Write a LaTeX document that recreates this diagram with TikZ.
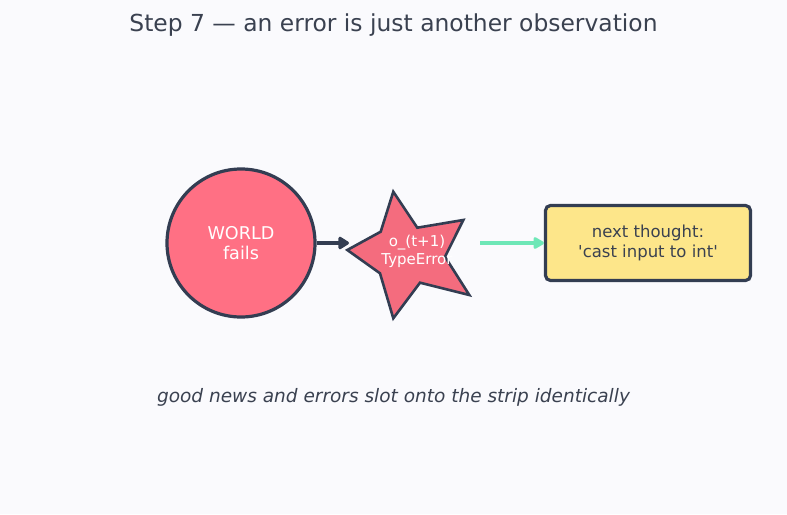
\documentclass[tikz,border=0pt]{standalone}
\usepackage{fontspec}
\setmainfont{DejaVu Sans}
\usetikzlibrary{arrows.meta,positioning}
\definecolor{ink}{HTML}{333D52}
\definecolor{paper}{HTML}{FAFAFD}
\definecolor{failred}{HTML}{FF7084}
\definecolor{errred}{HTML}{F46C7E}
\definecolor{mint}{HTML}{6EE7B7}
\definecolor{note}{HTML}{FDE68A}
\definecolor{textgrey}{HTML}{3A4150}
\tikzset{>=Latex,
  world/.style={circle,draw=ink,line width=3.2pt,fill=failred,minimum size=148pt,
    text=white,align=center,font=\fontsize{17.6}{20}\selectfont},
  errstar/.style={draw=ink,line width=2.6pt,fill=errred,line join=miter},
  thought/.style={draw=ink,line width=3.2pt,fill=note,rounded corners=5pt,
    minimum width=205pt,minimum height=75pt,text=textgrey,align=center,
    font=\fontsize{16.5}{20.5}\selectfont},
  darkarrow/.style={-{Triangle[length=12pt,width=14pt,round]},draw=ink,fill=ink,line width=4.4pt},
  mintarrow/.style={-{Triangle[length=12pt,width=13pt,round]},draw=mint,fill=mint,line width=3.4pt}}
\begin{document}
\begin{tikzpicture}[x=1pt,y=-1pt]
\fill[paper] (0,0) rectangle (787,514);
\useasboundingbox (0,0) rectangle (787,514);

\node[text=textgrey,font=\fontsize{23.4}{27}\selectfont] (title) at (393.5,25.5) {Step 7 — an error is just another observation};

\node[world] (world) at (241,243) {WORLD\\fails};

% the error star
\draw[errstar] (393.3,191.7)--(417.3,227.7)--(463.3,220)--(445,256.7)--(469.3,295)
  --(420,282.7)--(393.3,318.3)--(380,273.3)--(347.3,250)--(380.7,231.7)--cycle;
\node[text=white,align=center,font=\fontsize{15}{18}\selectfont] (obs) at (417,251) {o\_(t+1)\\TypeError};
\coordinate (starleft) at (349,243);
\coordinate (starright) at (480,243);

\node[thought] (next) at (648,243) {next thought:\\\textquotesingle cast input to int\textquotesingle};

\draw[darkarrow] (world.east)--(starleft);
\draw[mintarrow] (starright)--(next.west);

\node[text=textgrey,font=\itshape\fontsize{18.5}{22}\selectfont] (caption) at (393.5,397) {good news and errors slot onto the strip identically};
\end{tikzpicture}
\end{document}
